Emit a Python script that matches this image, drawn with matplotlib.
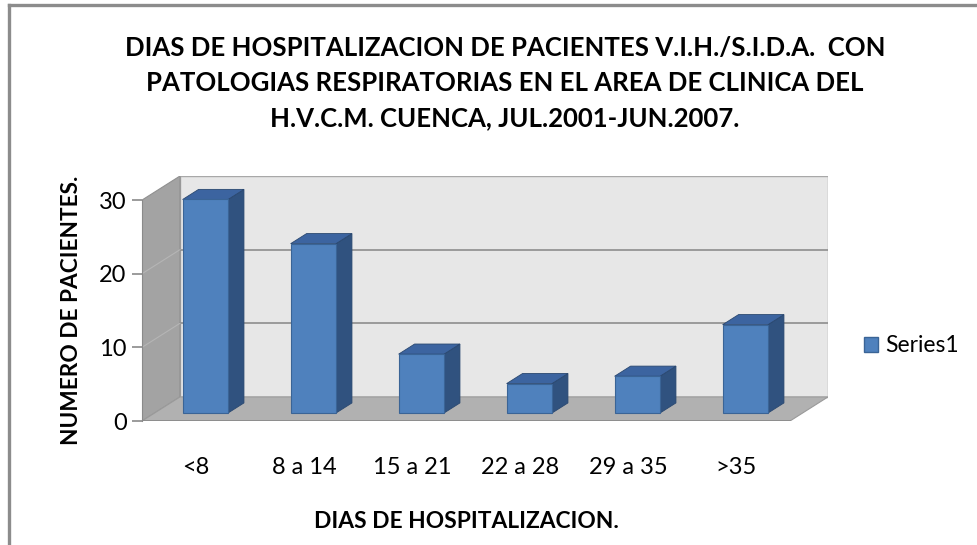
import numpy as np
import matplotlib
matplotlib.use("Agg")
import matplotlib.pyplot as plt
from matplotlib.patches import Polygon, Patch
from matplotlib.lines import Line2D

plt.rcParams['font.family'] = ['Lato', 'DejaVu Sans']

# datos
categorias = ["<8", "8 a 14", "15 a 21", "22 a 28", "29 a 35", ">35"]
pacientes = [29, 23, 8, 4, 5, 12]
yticks = [0, 10, 20, 30]

titulo = ("DIAS DE HOSPITALIZACION DE PACIENTES V.I.H./S.I.D.A.  CON\n"
          "PATOLOGIAS RESPIRATORIAS EN EL AREA DE CLINICA DEL\n"
          "H.V.C.M. CUENCA, JUL.2001-JUN.2007.")

# colores estilo excel
c_front = "#4F81BD"
c_side = "#30527F"
c_top = "#3C64A0"
c_back = "#E7E7E7"
c_wall = "#A3A3A3"
c_floor = "#B1B1B1"
c_grid = "#8E8E8E"

W, H = 978, 545
fig = plt.figure(figsize=(W / 100, H / 100), dpi=100)

# profundidad de la caja 3d en unidades de datos
DX, DY = 0.352, 3.27
YMAX = 30
n = len(categorias)
xl, xr = -0.5, n - 0.5

ax = fig.add_axes([142 / W, (H - 421) / H, 686 / W, 245 / H])
ax.set_xlim(xl, xr + DX)
ax.set_ylim(0, YMAX + DY)

# paredes
back = Polygon([(xl + DX, DY), (xr + DX, DY), (xr + DX, YMAX + DY), (xl + DX, YMAX + DY)],
               closed=True, fc=c_back, ec="#A8A8A8", lw=1.0, zorder=1)
wall = Polygon([(xl, 0), (xl + DX, DY), (xl + DX, YMAX + DY), (xl, YMAX)],
               closed=True, fc=c_wall, ec="#909090", lw=0.8, zorder=1)
floor = Polygon([(xl, 0), (xr, 0), (xr + DX, DY), (xl + DX, DY)],
                closed=True, fc=c_floor, ec="#9A9A9A", lw=0.8, zorder=2)
ax.add_patch(back)
ax.add_patch(wall)
ax.add_patch(floor)

for v in yticks[1:-1]:
    ax.plot([xl + DX, xr + DX], [v + DY, v + DY], color=c_grid, lw=1.2, zorder=2)
    ax.plot([xl, xl + DX], [v, v + DY], color="#B5B5B5", lw=0.8, zorder=2)
ax.plot([xl, xr], [0, 0], color="#8A8A8A", lw=1.2, zorder=3)

# barras
BW = 0.42
D0, DB = 0.33, 0.42
for i, v in enumerate(pacientes):
    x0 = i - BW / 2 + D0 * DX - 0.03
    x1 = x0 + BW
    yb = D0 * DY
    yt = v + D0 * DY
    ox, oy = DB * DX, DB * DY
    side = Polygon([(x1, yb), (x1 + ox, yb + oy), (x1 + ox, yt + oy), (x1, yt)],
                   closed=True, fc=c_side, ec="#2A4870", lw=0.6, zorder=4)
    top = Polygon([(x0, yt), (x1, yt), (x1 + ox, yt + oy), (x0 + ox, yt + oy)],
                  closed=True, fc=c_top, ec="#2A4870", lw=0.6, zorder=4)
    front = Polygon([(x0, yb), (x1, yb), (x1, yt), (x0, yt)],
                    closed=True, fc=c_front, ec="#3A6496", lw=0.8, zorder=5)
    ax.add_patch(side)
    ax.add_patch(top)
    ax.add_patch(front)

# ejes
for s in ["top", "right", "bottom"]:
    ax.spines[s].set_visible(False)
ax.spines["left"].set_bounds(0, YMAX)
ax.spines["left"].set_color("#8A8A8A")
ax.set_yticks(yticks)
ax.set_yticklabels([str(t) for t in yticks], fontsize=17)
ax.tick_params(axis="y", length=7, width=1.2, color="#8A8A8A", pad=4)
ax.set_xticks(range(n))
ax.set_xticklabels(categorias, fontsize=17)
ax.tick_params(axis="x", length=0, pad=26)

fig.text(505 / W, 1 - 83 / H, titulo, ha="center", va="center", fontsize=18.5,
         fontweight="bold", linespacing=1.55)
fig.text(466 / W, 1 - 521 / H, "DIAS DE HOSPITALIZACION.", ha="center", va="center",
         fontsize=16.4, fontweight="bold")
fig.text(72 / W, 1 - 310 / H, "NUMERO DE PACIENTES.", ha="center", va="center",
         rotation=90, fontsize=16.3, fontweight="bold")

leg = fig.legend(handles=[Patch(fc=c_front, ec="#3A6496", label="Series1")],
                 loc="center left", bbox_to_anchor=(864 / W, 1 - 346 / H),
                 frameon=False, fontsize=16.5, handlelength=0.62, handleheight=0.62,
                 handletextpad=0.3, borderpad=0, borderaxespad=0)

# borde de la hoja
fig.add_artist(Line2D([9 / W, 1], [1 - 5 / H, 1 - 5 / H], color="#8C8C8C", lw=2.4))
fig.add_artist(Line2D([9 / W, 9 / W], [0, 1 - 5 / H], color="#8C8C8C", lw=2.4))

fig.savefig("out.png", dpi=100)
